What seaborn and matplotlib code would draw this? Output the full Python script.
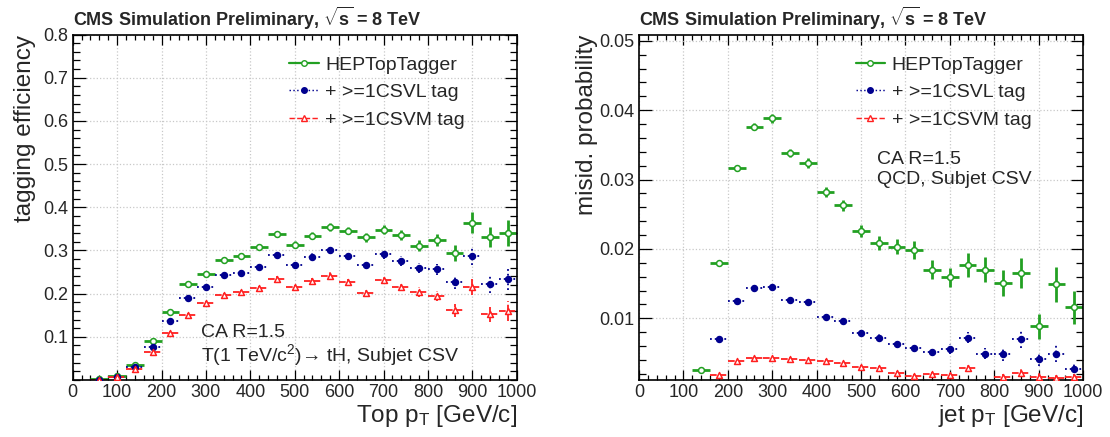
import numpy as np
import pandas as pd
import matplotlib
matplotlib.use("Agg")
import matplotlib.pyplot as plt
from matplotlib.lines import Line2D
from matplotlib.ticker import MultipleLocator
import seaborn as sns


# ---- data (bin centres, 40 GeV bins) ----
pt_top = [60, 100, 140, 180, 220, 260, 300, 340, 380, 420, 460, 500,
          540, 580, 620, 660, 700, 740, 780, 820, 860, 900, 940, 980]

eff_htt = [0.002, 0.009, 0.034, 0.090, 0.157, 0.222, 0.246, 0.278, 0.288, 0.308, 0.338, 0.313,
           0.334, 0.355, 0.346, 0.330, 0.348, 0.336, 0.311, 0.324, 0.294, 0.364, 0.331, 0.341]
eff_htt_err = [0.001, 0.002, 0.003, 0.004, 0.005, 0.005, 0.006, 0.006, 0.006, 0.007, 0.007, 0.008,
               0.008, 0.009, 0.009, 0.010, 0.011, 0.012, 0.013, 0.014, 0.018, 0.024, 0.023, 0.030]

eff_csvl = [0.001, 0.008, 0.030, 0.076, 0.137, 0.189, 0.215, 0.243, 0.248, 0.262, 0.290, 0.267,
            0.286, 0.300, 0.288, 0.267, 0.291, 0.276, 0.259, 0.256, 0.226, 0.287, 0.222, 0.234]
eff_csvl_err = [0.001, 0.002, 0.003, 0.004, 0.004, 0.005, 0.005, 0.005, 0.006, 0.006, 0.007, 0.007,
                0.008, 0.008, 0.009, 0.010, 0.010, 0.011, 0.012, 0.013, 0.016, 0.021, 0.020, 0.026]

eff_csvm = [0.001, 0.006, 0.025, 0.065, 0.109, 0.151, 0.178, 0.196, 0.203, 0.212, 0.235, 0.215,
            0.229, 0.242, 0.227, 0.202, 0.231, 0.215, 0.204, 0.194, 0.161, 0.215, 0.152, 0.160]
eff_csvm_err = [0.001, 0.002, 0.003, 0.004, 0.004, 0.004, 0.005, 0.005, 0.005, 0.006, 0.006, 0.006,
                0.007, 0.007, 0.008, 0.009, 0.009, 0.010, 0.011, 0.012, 0.014, 0.019, 0.018, 0.024]

pt_jet = [140, 180, 220, 260, 300, 340, 380, 420, 460, 500, 540, 580,
          620, 660, 700, 740, 780, 820, 860, 900, 940, 980]

mis_htt = [0.00255, 0.0180, 0.0316, 0.0376, 0.0388, 0.0338, 0.0324, 0.0282, 0.0263, 0.0226, 0.0208, 0.0203,
           0.0198, 0.0170, 0.0159, 0.0177, 0.0170, 0.0151, 0.0165, 0.00885, 0.0149, 0.0116]
mis_htt_err = [0.0002, 0.0003, 0.0004, 0.0005, 0.0006, 0.0006, 0.0007, 0.0007, 0.0008, 0.0009, 0.0010, 0.0011,
               0.0013, 0.0014, 0.0014, 0.0017, 0.0018, 0.0019, 0.0022, 0.0018, 0.0025, 0.0024]

mis_csvl = [np.nan, 0.00697, 0.0125, 0.0144, 0.0145, 0.0126, 0.0124, 0.0102, 0.00966, 0.00788, 0.00721, 0.00625,
            0.00577, 0.00519, 0.00558, 0.00721, 0.00490, 0.00481, 0.00707, 0.00418, 0.00490, 0.00264]
mis_csvl_err = [np.nan, 0.0002, 0.0003, 0.0003, 0.0003, 0.0003, 0.0004, 0.0004, 0.0004, 0.0005, 0.0005, 0.0005,
                0.0006, 0.0006, 0.0007, 0.0008, 0.0008, 0.0009, 0.0013, 0.0010, 0.0012, 0.0009]

mis_csvm = [np.nan, 0.00183, 0.00380, 0.00428, 0.00428, 0.00418, 0.00399, 0.00389, 0.00351, 0.00303, 0.00288, 0.00212,
            0.00173, 0.00197, 0.00183, 0.00279, np.nan, 0.00159, 0.00216, 0.00159, 0.00135, 0.00159]
mis_csvm_err = [np.nan, 0.0001, 0.0002, 0.0002, 0.0002, 0.0002, 0.0002, 0.0002, 0.0002, 0.0003, 0.0003, 0.0003,
                0.0003, 0.0003, 0.0003, 0.0005, np.nan, 0.0004, 0.0005, 0.0005, 0.0005, 0.0006]

labels = ["HEPTopTagger", "+ >=1CSVL tag", "+ >=1CSVM tag"]
bin_half = 20


sns.set_theme(style="ticks")
plt.rcParams['font.family'] = ['Liberation Sans', 'DejaVu Sans']
plt.rcParams['mathtext.fontset'] = 'custom'
plt.rcParams['mathtext.rm'] = 'Liberation Sans'
plt.rcParams['mathtext.it'] = 'Liberation Sans'
plt.rcParams['mathtext.bf'] = 'Liberation Sans:bold'

colors = ['#22a022', '#00008f', '#ff2020']
lstyles = ['-', ':', '--']
markers = ['o', 'o', '^']
faces = ['white', '#00008f', 'white']
lwidths = [2.0, 1.3, 1.3]


def long_table(x, series, errs):
    rows = []
    for lab, ys, es in zip(labels, series, errs):
        rows.append(pd.DataFrame({'pt': x, 'val': ys, 'err': es, 'series': lab}))
    return pd.concat(rows, ignore_index=True).dropna()


def draw_panel(ax, df):
    for i, lab in enumerate(labels):
        d = df[df.series == lab]
        eb = ax.errorbar(d.pt, d.val, xerr=bin_half, yerr=d.err, fmt='none',
                         ecolor=colors[i], elinewidth=lwidths[i], capsize=0, zorder=2)
        for lc in eb[2]:
            lc.set_linestyle(lstyles[i])
        sns.scatterplot(data=d, x='pt', y='val', ax=ax, marker=markers[i], s=18,
                        color=faces[i], edgecolor=colors[i], linewidth=1.1, zorder=3, legend=False)


def style_axes(ax, ymajor, yminor):
    ax.set_xlim(0, 1000)
    ax.xaxis.set_major_locator(MultipleLocator(100))
    ax.xaxis.set_minor_locator(MultipleLocator(20))
    ax.yaxis.set_major_locator(MultipleLocator(ymajor))
    ax.yaxis.set_minor_locator(MultipleLocator(yminor))
    ax.grid(True, which='major', color='#c8c8c8', linestyle=':', linewidth=0.9)
    ax.tick_params(axis='both', which='both', direction='in', top=True, right=True,
                   labelsize=13, width=0.9, color='black', pad=3)
    ax.tick_params(axis='y', which='major', length=9)
    ax.tick_params(axis='y', which='minor', length=5)
    ax.tick_params(axis='x', which='major', length=7)
    ax.tick_params(axis='x', which='minor', length=3.5)
    for sp in ax.spines.values():
        sp.set_linewidth(1.2)
        sp.set_color('black')
    ax.set_facecolor('white')


def add_legend(ax):
    handles = [Line2D([], [], color=colors[i], linestyle=lstyles[i], linewidth=lwidths[i] * 0.8,
                      marker=markers[i], markersize=4, markerfacecolor=faces[i],
                      markeredgecolor=colors[i]) for i in range(3)]
    ax.legend(handles, labels, loc='upper left', bbox_to_anchor=(0.488, 0.937), frameon=False,
              fontsize=14, handlelength=1.5, handletextpad=0.35, labelspacing=0.5, borderpad=0,
              borderaxespad=0)


fig = plt.figure(figsize=(11.10, 4.37), dpi=100)
ax1 = fig.add_axes([0.0655, 0.1304, 0.4, 0.7906])
ax2 = fig.add_axes([0.5757, 0.1304, 0.4, 0.7906])

draw_panel(ax1, long_table(pt_top, [eff_htt, eff_csvl, eff_csvm], [eff_htt_err, eff_csvl_err, eff_csvm_err]))
style_axes(ax1, 0.1, 0.02)
ax1.set_ylim(0, 0.8)
ax1.set_yticks(np.arange(0.1, 0.81, 0.1))
ax1.set_xlabel(r'Top p$_{\mathrm{T}}$ [GeV/c]', fontsize=17.5, loc='right', labelpad=1)
ax1.set_ylabel('tagging efficiency', fontsize=17.5, loc='top', labelpad=5)
add_legend(ax1)
ax1.text(0.29, 0.137, 'CA R=1.5', transform=ax1.transAxes, fontsize=14, va='center')
ax1.text(0.29, 0.072, r'T(1 TeV/c$^{2}$)→ tH, Subjet CSV', transform=ax1.transAxes,
         fontsize=14, va='center')

draw_panel(ax2, long_table(pt_jet, [mis_htt, mis_csvl, mis_csvm], [mis_htt_err, mis_csvl_err, mis_csvm_err]))
style_axes(ax2, 0.01, 0.002)
ax2.set_ylim(0.0011, 0.0509)
ax2.set_yticks([0.01, 0.02, 0.03, 0.04, 0.05])
ax2.set_yticklabels(['0.01', '0.02', '0.03', '0.04', '0.05'])
ax2.set_xlabel(r'jet p$_{\mathrm{T}}$ [GeV/c]', fontsize=17.5, loc='right', labelpad=1)
ax2.set_ylabel('misid. probability', fontsize=17.5, loc='top', labelpad=1)
add_legend(ax2)
ax2.text(0.536, 0.637, 'CA R=1.5', transform=ax2.transAxes, fontsize=14, va='center')
ax2.text(0.536, 0.579, 'QCD, Subjet CSV', transform=ax2.transAxes, fontsize=14, va='center')

for ax in (ax1, ax2):
    x0 = ax.get_position().x0
    fig.text(x0, 0.958, r'CMS Simulation Preliminary, $\mathbf{\sqrt{s}}$ = 8 TeV',
             fontsize=13, fontweight='bold', ha='left', va='center')

fig.savefig('out.png', dpi=100, facecolor='white')
